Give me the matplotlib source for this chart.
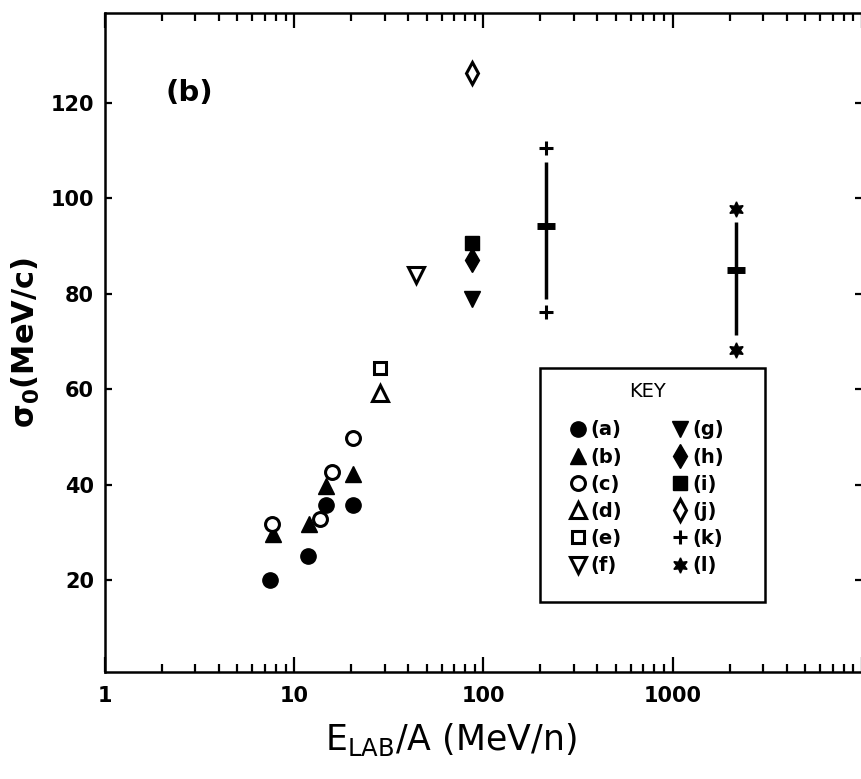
import numpy as np
import matplotlib
matplotlib.use("Agg")
import matplotlib.pyplot as plt
from matplotlib.patches import Rectangle
from matplotlib.lines import Line2D

plt.rcParams['font.family'] = ['DejaVu Sans']
plt.rcParams['mathtext.default'] = 'regular'

# data: E_LAB/A (MeV/n) vs sigma_0 (MeV/c)
a_E = [7.45, 11.8, 14.7, 20.4]
a_s = [20.0, 25.0, 35.8, 35.8]
b_E = [7.7, 11.9, 14.7, 20.4]
b_s = [29.6, 31.8, 39.8, 42.3]
c_E = [7.6, 13.7, 15.8, 20.4]
c_s = [31.8, 32.7, 42.6, 49.8]
d_E = [28.5]
d_s = [59.3]
e_E = [28.5]
e_s = [64.5]
f_E = [44.0]
f_s = [84.0]
g_E = [87.0]
g_s = [79.0]
h_E = [87.0]
h_s = [87.0]
i_E = [87.0]
i_s = [90.7]
j_E = [87.0]
j_s = [126.3]

# points with error bars: centre, bar ends, end markers
k_E = [215.0]
k_s = [94.2]
k_bar = [79.0, 107.7]
k_end = [76.3, 110.6]
l_E = [2150.0]
l_s = [84.9]
l_bar = [71.4, 95.1]
l_end = [68.2, 97.8]

styles = {
    "(a)": dict(marker="o", ms=11, mfc="k", mec="k"),
    "(b)": dict(marker="^", ms=11, mfc="k", mec="k"),
    "(c)": dict(marker="o", ms=10, mfc="white", mec="k", mew=2.2),
    "(d)": dict(marker="^", ms=11, mfc="white", mec="k", mew=2.2),
    "(e)": dict(marker="s", ms=9, mfc="white", mec="k", mew=2.2),
    "(f)": dict(marker="v", ms=11, mfc="white", mec="k", mew=2.2),
    "(g)": dict(marker="v", ms=11, mfc="k", mec="k"),
    "(h)": dict(marker="d", ms=12, mfc="k", mec="k"),
    "(i)": dict(marker="s", ms=10, mfc="k", mec="k"),
    "(j)": dict(marker="d", ms=11, mfc="white", mec="k", mew=2.2),
    "(k)": dict(marker="+", ms=10, mfc="k", mec="k", mew=2.2),
    "(l)": dict(marker=(6, 1, 0), ms=11, mfc="k", mec="k", mew=1),
}

fig = plt.figure(figsize=(8.62, 7.79), dpi=100)
ax = fig.add_axes([105 / 862, 107 / 779, 757 / 862, 659 / 779])

series = [
    ("(a)", a_E, a_s), ("(b)", b_E, b_s), ("(c)", c_E, c_s),
    ("(d)", d_E, d_s), ("(e)", e_E, e_s), ("(f)", f_E, f_s),
    ("(g)", g_E, g_s), ("(h)", h_E, h_s), ("(i)", i_E, i_s),
    ("(j)", j_E, j_s),
]
for lab, xs, ys in series:
    ax.plot(xs, ys, ls="none", **styles[lab])

# error bar points
for xs, ys, bar, ends, lab in [(k_E, k_s, k_bar, k_end, "(k)"),
                               (l_E, l_s, l_bar, l_end, "(l)")]:
    ax.vlines(xs, bar[0], bar[1], color="k", lw=2.5)
    ax.plot(xs, ys, ls="none", marker="_", ms=13, mew=5, color="k")
    ax.plot(xs * len(ends), ends, ls="none", **styles[lab])

ax.set_xscale("log")
ax.set_xlim(1, 10000)
ax.set_ylim(0.7, 138.9)

ax.set_xticks([1, 10, 100, 1000, 10000])
ax.set_xticklabels(["1", "10", "100", "1000", ""])
ax.set_yticks([20, 40, 60, 80, 100, 120])
ax.tick_params(axis="x", which="major", direction="in", length=11, width=1.6,
               top=True, labelsize=15, pad=10)
ax.tick_params(axis="x", which="minor", direction="in", length=5.5, width=1.6,
               top=True)
ax.tick_params(axis="y", which="major", direction="in", length=5, width=1.6,
               right=True, labelsize=15, pad=8)
ax.tick_params(axis="y", which="minor", left=False, right=False)
for t in ax.get_xticklabels() + ax.get_yticklabels():
    t.set_fontweight("bold")
for sp in ax.spines.values():
    sp.set_linewidth(1.8)

ax.set_ylabel(r"$\sigma_0$(MeV/c)", fontsize=22, fontweight="bold", labelpad=6)
fig.text(451 / 862, 1 - 740 / 779, r"E$_{LAB}$/A (MeV/n)", fontsize=25,
         ha="center", va="center")

ax.text(0.112, 0.879, "(b)", transform=ax.transAxes, fontsize=21,
        fontweight="bold", ha="center", va="center")

# key box
ax.add_patch(Rectangle((0.575, 0.106), 0.297, 0.355, transform=ax.transAxes,
                       fill=False, lw=1.8, ec="k"))
order = ["(a)", "(b)", "(c)", "(d)", "(e)", "(f)",
         "(g)", "(h)", "(i)", "(j)", "(k)", "(l)"]
handles = [Line2D([], [], ls="none", **styles[o]) for o in order]
leg = ax.legend(handles, order, ncol=2, frameon=False, loc="upper left",
                bbox_to_anchor=(0.614, 0.44), borderaxespad=0, borderpad=0,
                handlelength=0.8, handletextpad=0.25, columnspacing=2.6,
                labelspacing=0.42, title="KEY",
                prop=dict(size=14, weight="bold"),
                title_fontproperties=dict(size=14))
leg._legend_box.sep = 14

fig.savefig("out.png", dpi=100)
